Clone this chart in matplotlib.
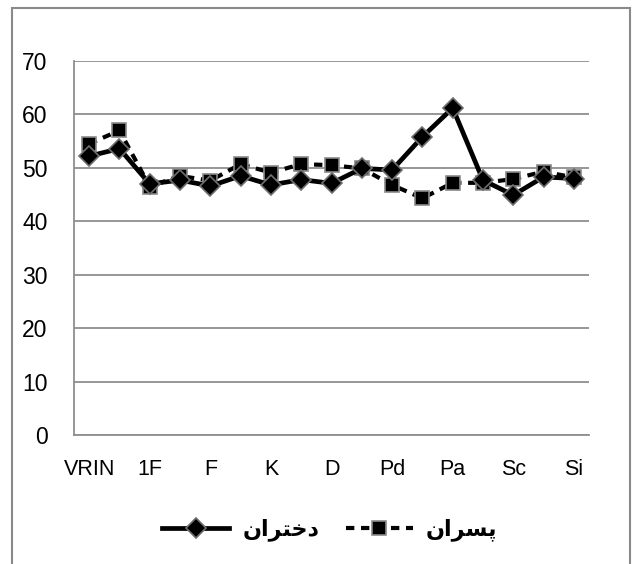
import numpy as np
import matplotlib
matplotlib.use('Agg')
import matplotlib.pyplot as plt
from matplotlib.patches import Rectangle

# MMPI scales (only every other one is labelled on the axis)
scales = ['VRIN', 'TRIN', '1F', '2F', 'F', 'L', 'K', 'Hs', 'D',
          'Hy', 'Pd', 'Mf', 'Pa', 'Pt', 'Sc', 'Ma', 'Si']
girls = [52.2, 53.6, 47.0, 47.7, 46.6, 48.5, 46.8, 47.8, 47.1,
         49.9, 49.6, 55.8, 61.2, 47.7, 44.9, 48.3, 48.0]
boys = [54.5, 57.0, 46.5, 48.5, 47.6, 50.7, 49.1, 50.7, 50.5,
        49.9, 46.8, 44.3, 47.2, 47.2, 47.9, 49.3, 48.2]
yticks = [0, 10, 20, 30, 40, 50, 60, 70]

# Persian labels in presentation forms, visual order (no shaping in matplotlib)
label_girls = '\uFEE5\uFE8D\uFEAE\uFE98\uFEA7\uFEA9'   # دختران
label_boys = '\uFEE5\uFE8D\uFEAE\uFEB4\uFB58'          # پسران

plt.rcParams['font.family'] = ['Liberation Sans', 'DejaVu Sans']

fig = plt.figure(figsize=(6.35, 5.64), dpi=100)
ax = fig.add_axes([74/635, 1 - 435/564, 515/635, 374/564])

x = np.arange(len(scales))
ax.plot(x, girls, color='black', lw=3.4, marker='D', markersize=10,
        markerfacecolor='black', markeredgecolor='#6e6e6e', markeredgewidth=1.2,
        label=label_girls, zorder=4)
ax.plot(x, boys, color='black', lw=3.0, dashes=(2.0, 1.6), marker='s', markersize=9.5,
        markerfacecolor='black', markeredgecolor='#8a8a8a', markeredgewidth=1.2,
        label=label_boys, zorder=3)

ax.set_xlim(-0.5, len(scales) - 0.5)
ax.set_ylim(0, 70)
ax.set_yticks(yticks)
ax.set_yticklabels([str(v) for v in yticks], fontsize=16.5)
ax.set_xticks(x[::2])
ax.set_xticklabels(scales[::2], fontsize=15.5)
ax.tick_params(axis='y', length=0, pad=19)
ax.tick_params(axis='x', length=0, pad=17)

ax.grid(axis='y', color='#8f8f8f', lw=1.3)
ax.set_axisbelow(True)
for side in ['top', 'right']:
    ax.spines[side].set_visible(False)
for side in ['left', 'bottom']:
    ax.spines[side].set_color('#8f8f8f')
    ax.spines[side].set_linewidth(1.3)

leg = fig.legend(loc='center', bbox_to_anchor=(330/635, 1 - 530/564), ncol=2,
                 frameon=False, handlelength=3.0, columnspacing=1.2, handletextpad=0.6,
                 prop={'family': ['DejaVu Sans'], 'size': 16, 'weight': 'bold'})

# outer chart frame
fig.patches.append(Rectangle((12/635, -0.05), 618/635, 1.05 - 8/564,
                             transform=fig.transFigure, fill=False,
                             edgecolor='#8a8a8a', lw=1.5))

fig.savefig('out.png', dpi=100)
